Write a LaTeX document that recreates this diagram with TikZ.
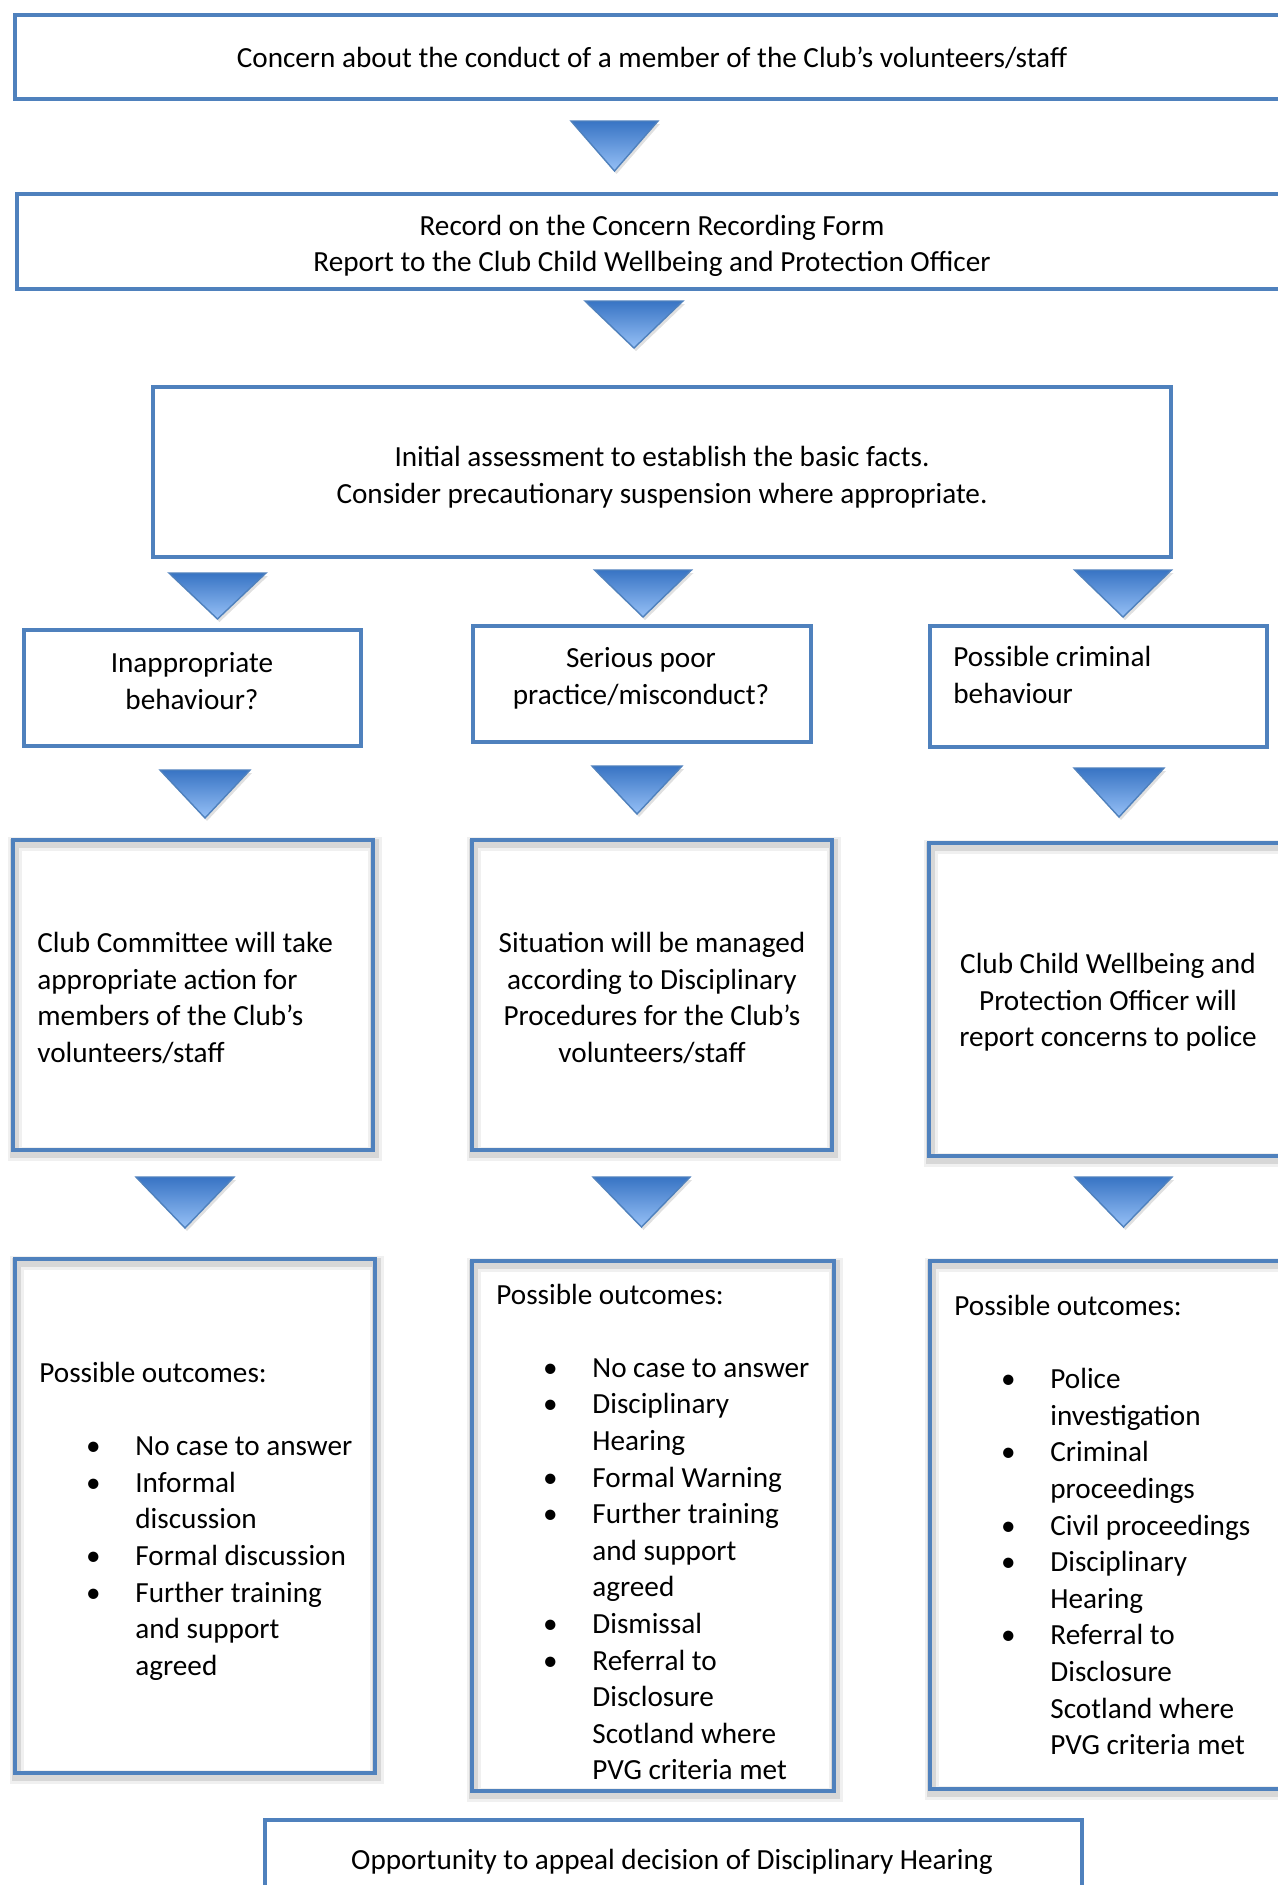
\documentclass[tikz,border=0pt]{standalone}
\usepackage{fontspec}
\setmainfont{Carlito}
\usetikzlibrary{calc,fit}
\definecolor{bordblue}{RGB}{79,129,189}
\definecolor{tritop}{RGB}{56,116,196}
\definecolor{tribot}{RGB}{150,192,246}
\definecolor{triedge}{RGB}{79,129,189}
\newcommand\fsz{\fontsize{14.6pt}{18.3pt}\selectfont}
\newcommand\olitem{\hspace*{21pt}\makebox[12pt]{\textbullet}\hspace*{15pt}}
\newcommand\olcont{\hspace*{48pt}}
\tikzset{
  box/.style={draw=bordblue, line width=2.4pt, inner sep=0pt},
  shbox/.style={box,
    preaction={draw=black, draw opacity=0.10, line width=4.5pt, transform canvas={shift={(0.8pt,-1.5pt)}}},
    preaction={draw=black, draw opacity=0.06, line width=7pt, transform canvas={shift={(1.1pt,-2.2pt)}}}},
  txt/.style={inner sep=0pt, font=\fsz, anchor=north},
  txtl/.style={txt, anchor=north west, align=left},
  txtc/.style={txt, align=center},
}
\newcommand\dtri[4]{%
  \fill[black, opacity=0.12] ({#1-#3+2},{#2+3}) -- ({#1+#3+2},{#2+3}) -- ({#1+2},{#2+#4+3}) -- cycle;
  \shade[top color=tritop, bottom color=tribot, draw=triedge, line width=0.7pt]
    ({#1-#3},#2) -- ({#1+#3},#2) -- (#1,{#2+#4}) -- cycle;}
\begin{document}
\begin{tikzpicture}[x=0.5pt,y=-0.5pt]
\useasboundingbox (0,0) rectangle (1278,1885);
\fill[white] (0,0) rectangle (1278,1885);
\clip (0,0) rectangle (1278,1885);

% boxes
\node[box, fit={(15,15) (1289,99)}] (b1) {};
\node[box, fit={(17,194) (1287,289)}] (b2) {};
\node[box, fit={(153,387) (1171,557)}] (b3) {};
\node[box, fit={(24,630) (361,746)}] (q1) {};
\node[box, fit={(473,626) (811,742)}] (q2) {};
\node[box, fit={(930,626) (1267,747)}] (q3) {};
\node[shbox, fit={(13,840) (373,1150)}] (a1) {};
\node[shbox, fit={(472,840) (832,1150)}] (a2) {};
\node[shbox, fit={(929,843) (1310,1156)}] (a3) {};
\node[shbox, fit={(15,1259) (375,1773)}] (o1) {};
\node[shbox, fit={(472,1261) (834,1791)}] (o2) {};
\node[shbox, fit={(930,1261) (1310,1789)}] (o3) {};
\node[box, fit={(265,1820) (1082,1910)}] (ap) {};

% triangles
\dtri{614.5}{121}{43.5}{50}
\dtri{634}{301}{49}{47}
\dtri{217.5}{573}{48.5}{46}
\dtri{643}{570}{48.5}{47}
\dtri{1123}{570}{48.5}{47}
\dtri{205}{770}{45}{48}
\dtri{637}{766}{45}{48}
\dtri{1119}{768}{45}{49}
\dtri{185}{1177}{49}{51}
\dtri{641.5}{1177}{48.5}{50}
\dtri{1123.5}{1177}{48.5}{50}

% texts
\node[txtc] (t1) at (652,41.6) {\strut Concern about the conduct of a member of the Club’s volunteers/staff};
\node[txtc] (t2) at (652,209) {\strut Record on the Concern Recording Form\\Report to the Club Child Wellbeing and Protection Officer};
\node[txtc] (t3) at (662,440.5) {\strut Initial assessment to establish the basic facts.\\Consider precautionary suspension where appropriate.};
\node[txtc] (tq1) at (192,646.6) {\strut Inappropriate\\behaviour?};
\node[txtc] (tq2) at (641,641.6) {\strut Serious poor\\practice/misconduct?};
\node[txtl] (tq3) at (953,640.6) {\strut Possible criminal\\behaviour};

\node[txtl] (ta1) at (37,926.6) {\strut Club Committee will take\\appropriate action for\\members of the Club’s\\volunteers/staff};
\node[txtc] (ta2) at (652,926.6) {\strut Situation will be managed\\according to Disciplinary\\Procedures for the Club’s\\volunteers/staff};
\node[txtc] (ta3) at (1108,947.6) {\strut Club Child Wellbeing and\\Protection Officer will\\report concerns to police};

\node[txtl] (to1) at (39,1356.5) {\strut Possible outcomes:\\\strut\\
\olitem No case to answer\\
\olitem Informal\\\olcont discussion\\
\olitem Formal discussion\\
\olitem Further training\\\olcont and support\\\olcont agreed};

\node[txtl] (to2) at (496,1278) {\strut Possible outcomes:\\\strut\\
\olitem No case to answer\\
\olitem Disciplinary\\\olcont Hearing\\
\olitem Formal Warning\\
\olitem Further training\\\olcont and support\\\olcont agreed\\
\olitem Dismissal\\
\olitem Referral to\\\olcont Disclosure\\\olcont Scotland where\\\olcont PVG criteria met};

\node[txtl] (to3) at (954,1289.5) {\strut Possible outcomes:\\\strut\\
\olitem Police\\\olcont investigation\\
\olitem Criminal\\\olcont proceedings\\
\olitem Civil proceedings\\
\olitem Disciplinary\\\olcont Hearing\\
\olitem Referral to\\\olcont Disclosure\\\olcont Scotland where\\\olcont PVG criteria met};

\node[txtc] (tap) at (672,1843.5) {\strut Opportunity to appeal decision of Disciplinary Hearing};
\end{tikzpicture}
\end{document}
